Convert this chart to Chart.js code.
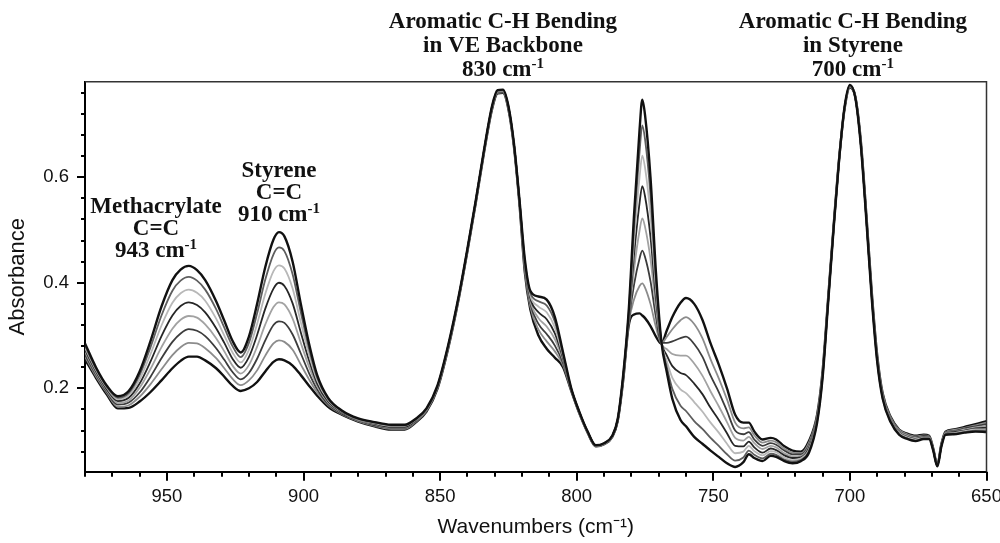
<!DOCTYPE html>
<html>
<head>
<meta charset="utf-8">
<script src="https://cdn.jsdelivr.net/npm/chart.js@4.4.1/dist/chart.umd.min.js"></script>
<style>
  html, body { margin: 0; padding: 0; background: #ffffff; }
  canvas { display: block; }
</style>
</head>
<body>
<canvas id="chart" width="1000" height="543"></canvas>
<script>
// ---- Data (absorbance vs wavenumber, cure sequence) ----
const wavenumbers = [980,976,972,968,964,960,956,952,948,945,
  942,939,936,932,929,926,923,920,917,914,
  911,909,907,904,901,898,895,891,886,880,
  874,868,863,859,855,851,847,843,840,837,
  834,831,829,827,825,823,821,819,817,814,
  811,808,805,802,799,796,793,790,787,785,
  783,781,779,777,776,775,773,771,769,767,
  765,762,760,757,754,751,748,745,742,739,
  737,735,732,729,727,724,721,718,715,712,
  710,708,706,704,702,700,698,696,694,692,
  690,688,685,682,679,676,673,671,669.5,668,
  666.5,665,662,658,654,650];

const spectrum1 = [.285,.240,.205,.185,.195,.232,.290,.355,.405,.425,
  .432,.424,.405,.365,.328,.290,.268,.298,.360,.430,
  .482,.496,.488,.440,.360,.285,.225,.182,.158,.143,
  .136,.131,.131,.142,.162,.205,.283,.380,.465,.555,
  .650,.735,.765,.766,.735,.665,.560,.445,.385,.374,
  .368,.335,.268,.200,.155,.118,.092,.096,.110,.142,
  .225,.345,.530,.690,.747,.718,.600,.420,.288,.230,
  .180,.140,.128,.108,.095,.082,.070,.058,.051,.060,
  .075,.068,.062,.072,.070,.062,.058,.062,.078,.135,
  .220,.360,.500,.630,.732,.775,.750,.660,.520,.370,
  .250,.180,.135,.112,.104,.100,.104,.104,.082,.052,
  .090,.112,.113,.116,.118,.117];

const spectrum2 = [.281,.238,.203,.182,.191,.225,.278,.338,.385,.404,
  .411,.404,.387,.350,.315,.280,.259,.286,.342,.406,
  .454,.467,.460,.416,.344,.275,.220,.180,.157,.142,
  .135,.130,.130,.141,.161,.204,.282,.379,.464,.554,
  .649,.734,.764,.765,.734,.664,.559,.442,.381,.365,
  .357,.326,.265,.199,.155,.118,.092,.096,.110,.142,
  .224,.342,.507,.648,.698,.672,.566,.405,.288,.240,
  .199,.167,.157,.138,.123,.106,.091,.075,.063,.069,
  .082,.074,.067,.076,.074,.065,.061,.064,.081,.137,
  .221,.361,.501,.630,.731,.774,.750,.661,.521,.371,
  .251,.181,.136,.113,.105,.101,.105,.105,.082,.052,
  .091,.113,.114,.117,.120,.120];

const spectrum3 = [.277,.235,.201,.179,.187,.217,.265,.319,.362,.380,
  .387,.381,.366,.332,.300,.268,.249,.273,.322,.379,
  .422,.433,.427,.389,.325,.264,.215,.178,.156,.141,
  .134,.129,.129,.140,.160,.203,.281,.379,.464,.554,
  .649,.733,.763,.764,.733,.663,.558,.439,.376,.355,
  .344,.315,.261,.199,.154,.117,.091,.095,.109,.141,
  .222,.338,.481,.600,.641,.618,.527,.388,.287,.251,
  .220,.198,.191,.174,.156,.135,.116,.095,.077,.080,
  .091,.081,.073,.081,.079,.069,.064,.067,.084,.139,
  .223,.362,.501,.631,.731,.774,.751,.662,.523,.373,
  .253,.183,.138,.115,.107,.103,.106,.106,.083,.053,
  .091,.114,.115,.119,.122,.122];

const spectrum4 = [.273,.232,.198,.176,.182,.209,.251,.299,.338,.356,
  .363,.358,.344,.314,.286,.256,.239,.259,.301,.351,
  .389,.400,.394,.361,.306,.253,.209,.175,.155,.141,
  .133,.127,.127,.139,.160,.203,.281,.378,.463,.553,
  .648,.733,.763,.764,.733,.663,.557,.435,.371,.344,
  .331,.304,.257,.198,.154,.117,.091,.095,.109,.140,
  .221,.334,.454,.551,.583,.564,.487,.371,.287,.262,
  .242,.229,.225,.209,.189,.163,.140,.115,.091,.090,
  .099,.088,.078,.086,.083,.073,.068,.069,.087,.141,
  .225,.363,.502,.631,.730,.773,.751,.663,.524,.375,
  .255,.184,.139,.116,.108,.104,.107,.106,.084,.053,
  .092,.114,.117,.120,.124,.125];

const spectrum5 = [.269,.229,.196,.172,.177,.201,.237,.278,.313,.330,
  .337,.334,.321,.295,.270,.243,.228,.244,.279,.321,
  .354,.363,.359,.332,.286,.241,.204,.173,.154,.140,
  .132,.126,.126,.138,.159,.202,.280,.377,.462,.552,
  .647,.732,.762,.763,.732,.662,.556,.431,.366,.333,
  .317,.293,.253,.197,.153,.117,.091,.095,.109,.140,
  .220,.330,.426,.499,.522,.506,.445,.353,.286,.274,
  .265,.262,.262,.247,.224,.194,.166,.136,.106,.101,
  .108,.096,.085,.091,.088,.077,.071,.072,.090,.143,
  .227,.364,.503,.631,.730,.772,.751,.664,.526,.377,
  .257,.186,.141,.118,.110,.106,.108,.107,.084,.054,
  .093,.115,.118,.122,.126,.129];

const spectrum6 = [.264,.226,.193,.169,.173,.192,.222,.257,.288,.304,
  .312,.309,.299,.276,.254,.231,.217,.229,.256,.291,
  .320,.327,.324,.302,.266,.229,.198,.170,.152,.139,
  .130,.125,.125,.137,.158,.201,.279,.377,.462,.552,
  .647,.731,.761,.762,.731,.661,.554,.428,.361,.322,
  .303,.281,.248,.197,.153,.117,.091,.095,.109,.139,
  .218,.326,.397,.446,.461,.449,.403,.335,.286,.286,
  .289,.295,.298,.284,.260,.224,.193,.157,.120,.113,
  .117,.103,.091,.096,.093,.082,.075,.075,.093,.146,
  .228,.366,.504,.631,.729,.772,.751,.666,.527,.378,
  .258,.187,.142,.119,.111,.107,.110,.108,.085,.054,
  .094,.116,.119,.124,.128,.132];

const spectrum7 = [.260,.223,.191,.165,.168,.184,.208,.236,.263,.278,
  .286,.285,.276,.257,.238,.218,.206,.215,.234,.262,
  .285,.291,.288,.273,.245,.217,.192,.168,.151,.138,
  .129,.123,.123,.136,.157,.200,.278,.376,.461,.551,
  .646,.730,.760,.761,.730,.660,.553,.424,.355,.311,
  .289,.270,.244,.196,.152,.116,.090,.094,.108,.139,
  .217,.322,.369,.394,.399,.391,.360,.316,.285,.298,
  .312,.329,.335,.322,.295,.255,.219,.179,.135,.124,
  .126,.111,.097,.101,.098,.086,.078,.077,.097,.148,
  .230,.367,.504,.632,.729,.771,.752,.667,.529,.380,
  .260,.189,.144,.121,.113,.109,.111,.109,.085,.055,
  .094,.117,.121,.125,.130,.135];

const spectrum8 = [.255,.220,.188,.162,.163,.175,.193,.215,.238,.252,
  .260,.260,.253,.238,.222,.205,.195,.200,.212,.232,
  .250,.255,.253,.243,.225,.205,.186,.165,.150,.137,
  .128,.122,.122,.135,.156,.199,.277,.375,.460,.550,
  .645,.729,.759,.760,.729,.659,.552,.420,.350,.300,
  .275,.258,.240,.195,.152,.116,.090,.094,.108,.138,
  .215,.318,.340,.342,.338,.333,.318,.298,.285,.310,
  .335,.362,.371,.360,.330,.285,.245,.200,.150,.135,
  .135,.118,.103,.106,.103,.090,.082,.080,.100,.150,
  .232,.368,.505,.632,.728,.770,.752,.668,.530,.382,
  .262,.190,.145,.122,.114,.110,.112,.110,.086,.055,
  .095,.118,.122,.127,.132,.138];

const seriesValues = [spectrum1, spectrum2, spectrum3, spectrum4,
                      spectrum5, spectrum6, spectrum7, spectrum8];

const xTickLabels = [950, 900, 850, 800, 750, 700, 650];
const yTickLabels = [0.2, 0.4, 0.6];

// ---- Styles ----
const seriesColors = ['#111111', '#5e5e5e', '#b8b8b8', '#262626',
                      '#a2a2a2', '#3c3c3c', '#8c8c8c', '#111111'];
const seriesWidths = [2.4, 1.8, 1.8, 1.8, 1.8, 1.8, 1.8, 2.4];

const annotationBlocks = [
  { x: 954.0, y: 0.533, gap: 22, lines: ['Methacrylate', 'C=C', '943 cm^-1'] },
  { x: 909.0, y: 0.600, gap: 22, lines: ['Styrene', 'C=C', '910 cm^-1'] },
  { x: 827.0, y: 0.883, gap: 24, lines: ['Aromatic C-H Bending', 'in VE Backbone', '830 cm^-1'] },
  { x: 698.9, y: 0.883, gap: 24, lines: ['Aromatic C-H Bending', 'in Styrene', '700 cm^-1'] }
];

const SANS = "'Liberation Sans', Arial, Helvetica, sans-serif";
const SERIF = "'Liberation Serif', 'Times New Roman', Times, serif";

const frameAndTicks = {
  id: 'frameAndTicks',
  afterDraw(chart) {
    const { ctx, chartArea: a, scales: { x, y } } = chart;
    ctx.save();
    // top and right frame
    ctx.strokeStyle = '#333';
    ctx.lineWidth = 1.5;
    ctx.beginPath();
    ctx.moveTo(a.left, a.top);
    ctx.lineTo(a.right, a.top);
    ctx.lineTo(a.right, a.bottom);
    ctx.stroke();
    // x ticks (every 10, long at labelled values)
    ctx.strokeStyle = '#000';
    ctx.lineWidth = 2;
    for (let v = x.min; v <= x.max + 0.001; v += 10) {
      const px = Math.round(x.getPixelForValue(v));
      const major = xTickLabels.includes(v);
      ctx.beginPath();
      ctx.moveTo(px, a.bottom);
      ctx.lineTo(px, a.bottom + (major ? 9 : 5));
      ctx.stroke();
    }
    // y ticks (every 0.04, long at labelled values)
    for (let k = 1; k <= 20; k++) {
      const v = k * 0.04;
      if (v < y.min || v > y.max) continue;
      const py = Math.round(y.getPixelForValue(v));
      const major = k % 5 === 0;
      ctx.beginPath();
      ctx.moveTo(a.left, py);
      ctx.lineTo(a.left - (major ? 8 : 4), py);
      ctx.stroke();
    }
    ctx.restore();
  }
};

const peakLabels = {
  id: 'peakLabels',
  afterDraw(chart) {
    const { ctx, scales: { x, y } } = chart;
    ctx.save();
    ctx.fillStyle = '#111';
    ctx.textBaseline = 'alphabetic';
    ctx.textAlign = 'left';
    const mainFont = 'bold 23px ' + SERIF;
    const supFont = 'bold 15px ' + SERIF;
    annotationBlocks.forEach(b => {
      const cx = x.getPixelForValue(b.x);
      const by = y.getPixelForValue(b.y);
      b.lines.forEach((line, i) => {
        const parts = line.split('^');
        ctx.font = mainFont;
        const w1 = ctx.measureText(parts[0]).width;
        let w2 = 0;
        if (parts[1]) { ctx.font = supFont; w2 = ctx.measureText(parts[1]).width; }
        const sx = cx - (w1 + w2) / 2;
        const yy = by + i * b.gap;
        ctx.font = mainFont;
        ctx.fillText(parts[0], sx, yy);
        if (parts[1]) {
          ctx.font = supFont;
          ctx.fillText(parts[1], sx + w1, yy - 8);
        }
      });
    });
    ctx.restore();
  }
};

const datasets = seriesValues.map((vals, i) => ({
  label: 'Spectrum ' + (i + 1),
  data: wavenumbers.map((w, j) => ({ x: w, y: vals[j] })),
  borderColor: seriesColors[i],
  borderWidth: seriesWidths[i],
  pointRadius: 0,
  fill: false,
  cubicInterpolationMode: 'monotone'
}));

new Chart(document.getElementById('chart'), {
  type: 'line',
  data: { datasets },
  plugins: [frameAndTicks, peakLabels],
  options: {
    responsive: false,
    animation: false,
    events: [],
    layout: { padding: { left: 0, right: 13.5, top: 81.7, bottom: 0 } },
    plugins: { legend: { display: false }, tooltip: { enabled: false } },
    scales: {
      x: {
        type: 'linear',
        reverse: true,
        min: 650,
        max: 980,
        afterFit: s => { s.height = 543 - 471.7; s.paddingLeft = 0; s.paddingRight = 0; },
        afterBuildTicks: s => { s.ticks = xTickLabels.map(v => ({ value: v })); },
        grid: { display: false, drawTicks: false },
        border: { display: true, color: '#000', width: 2 },
        ticks: {
          padding: 14, color: '#111', maxRotation: 0, autoSkip: false,
          font: { family: SANS, size: 18.5 },
          callback: v => String(v)
        },
        title: {
          display: true, text: 'Wavenumbers (cm⁻¹)', color: '#111',
          font: { family: SANS, size: 21 }, padding: { top: 0, bottom: 3.5 }
        }
      },
      y: {
        min: 0.042,
        max: 0.781,
        afterFit: s => { s.width = 85; s.paddingTop = 0; s.paddingBottom = 0; },
        afterBuildTicks: s => { s.ticks = yTickLabels.map(v => ({ value: v })); },
        grid: { display: false, drawTicks: false },
        border: { display: true, color: '#000', width: 2 },
        ticks: {
          padding: 16, color: '#111',
          font: { family: SANS, size: 18.5 },
          callback: v => Number(v).toFixed(1)
        },
        title: {
          display: true, text: 'Absorbance', color: '#111',
          font: { family: SANS, size: 22 }, padding: { top: 5, bottom: 0 }
        }
      }
    }
  }
});
</script>
</body>
</html>
